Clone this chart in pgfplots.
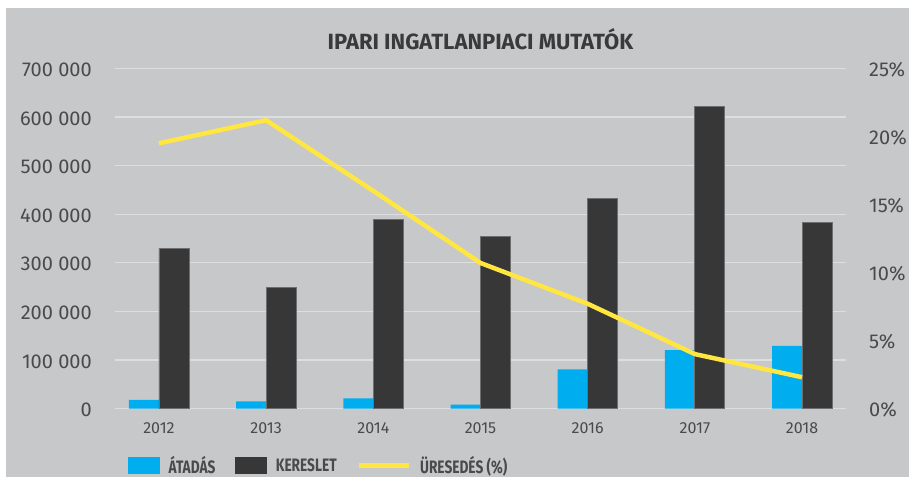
\documentclass[border=0pt]{standalone}
\usepackage{pgfplots}
\pgfplotsset{compat=1.18}
\usepackage{fontspec}
\setmainfont{Fira Sans}
\newfontfamily\condfont{Fira Sans}[FakeStretch=0.76]
\definecolor{bg}{HTML}{C7C8CA}
\definecolor{gridc}{HTML}{DDDEDF}
\definecolor{cblue}{HTML}{00AEEF}
\definecolor{cdark}{HTML}{373737}
\definecolor{cborder}{HTML}{6E6E6E}
\definecolor{cyellow}{HTML}{FFE640}
\definecolor{textc}{HTML}{4A4A4A}
\definecolor{titlec}{HTML}{3A3A3A}
\begin{document}
\begin{tikzpicture}[x=1pt,y=1pt]
\fill[white] (0,0) rectangle (909,477);
\fill[bg] (6,0) rectangle (909,469);
\node[font=\bfseries\fontsize{22}{22}\selectfont, text=titlec, inner sep=0pt] at (480.5,438) {IPARI INGATLANPIACI MUTATÓK};
\begin{axis}[
  at={(115pt,68.5pt)}, anchor=south west,
  scale only axis, width=731pt, height=340pt,
  xmin=-0.41, xmax=6.41, ymin=0, ymax=700000,
  scaled y ticks=false,
  ybar=0pt, bar width=30pt,
  axis line style={draw=none},
  major tick length=0pt,
  ymajorgrids, grid style={line width=1.2pt, color=gridc},
  ytick={0,100000,200000,300000,400000,500000,600000,700000},
  yticklabels={0,100 000,200 000,300 000,400 000,500 000,600 000,700 000},
  xtick={0,1,2,3,4,5,6},
  xticklabels={2012,2013,2014,2015,2016,2017,2018},
  yticklabel style={font=\fontsize{20}{20}\selectfont, text=textc, anchor=east, inner sep=0pt, xshift=-23pt, yshift=-1.5pt},
  xticklabel style={font=\fontsize{16}{16}\selectfont, text=textc, anchor=center, inner sep=0pt, yshift=-19.5pt},
]
\addplot[fill=cblue, draw=none] coordinates {(0,18000) (1,14500) (2,21000) (3,8000) (4,80500) (5,120000) (6,129000)};
\addplot[fill=cdark, draw=cborder, line width=0.8pt] coordinates {(0,329000) (1,250000) (2,389000) (3,355000) (4,432000) (5,622000) (6,383000)};
\end{axis}
\begin{axis}[
  at={(115pt,68.5pt)}, anchor=south west,
  scale only axis, width=731pt, height=340pt,
  xmin=-0.41, xmax=6.41, ymin=0, ymax=25,
  hide x axis,
  axis line style={draw=none},
  major tick length=0pt,
  yticklabel pos=right,
  ytick={0,5,10,15,20,25},
  yticklabels={0\%,5\%,10\%,15\%,20\%,25\%},
  yticklabel style={font=\fontsize{20}{20}\selectfont, text=textc, anchor=west, inner sep=0pt, xshift=23pt, yshift=-1.5pt},
  legend columns=3,
  legend style={draw=none, fill=none, inner sep=0pt, at={(0.0178,-0.168)}, anchor=west,
    font=\condfont\bfseries\fontsize{18}{18}\selectfont, text=textc,
    nodes={inner sep=0pt}, cells={anchor=west}, column sep=9pt,
    /tikz/every even column/.append style={column sep=20pt}},
]
\addlegendimage{legend image code/.code={\fill[cblue] (0pt,-8pt) rectangle (31pt,8pt);}}
\addlegendentry{ÁTADÁS}
\addlegendimage{legend image code/.code={\fill[cdark] (0pt,-8pt) rectangle (31pt,8pt);}}
\addlegendentry{KERESLET}
\addplot[cyellow, line width=4.5pt, legend image code/.code={\draw[cyellow, line width=4.5pt] (0pt,0pt) -- (50pt,0pt);}] coordinates {(0,19.5) (1,21.2) (2,16.0) (3,10.7) (4,7.7) (5,4.0) (6,2.3)};
\addlegendentry{ÜRESEDÉS (\%)}
\end{axis}
\pgfresetboundingbox
\path (0,0) rectangle (909,477);
\end{tikzpicture}
\end{document}
